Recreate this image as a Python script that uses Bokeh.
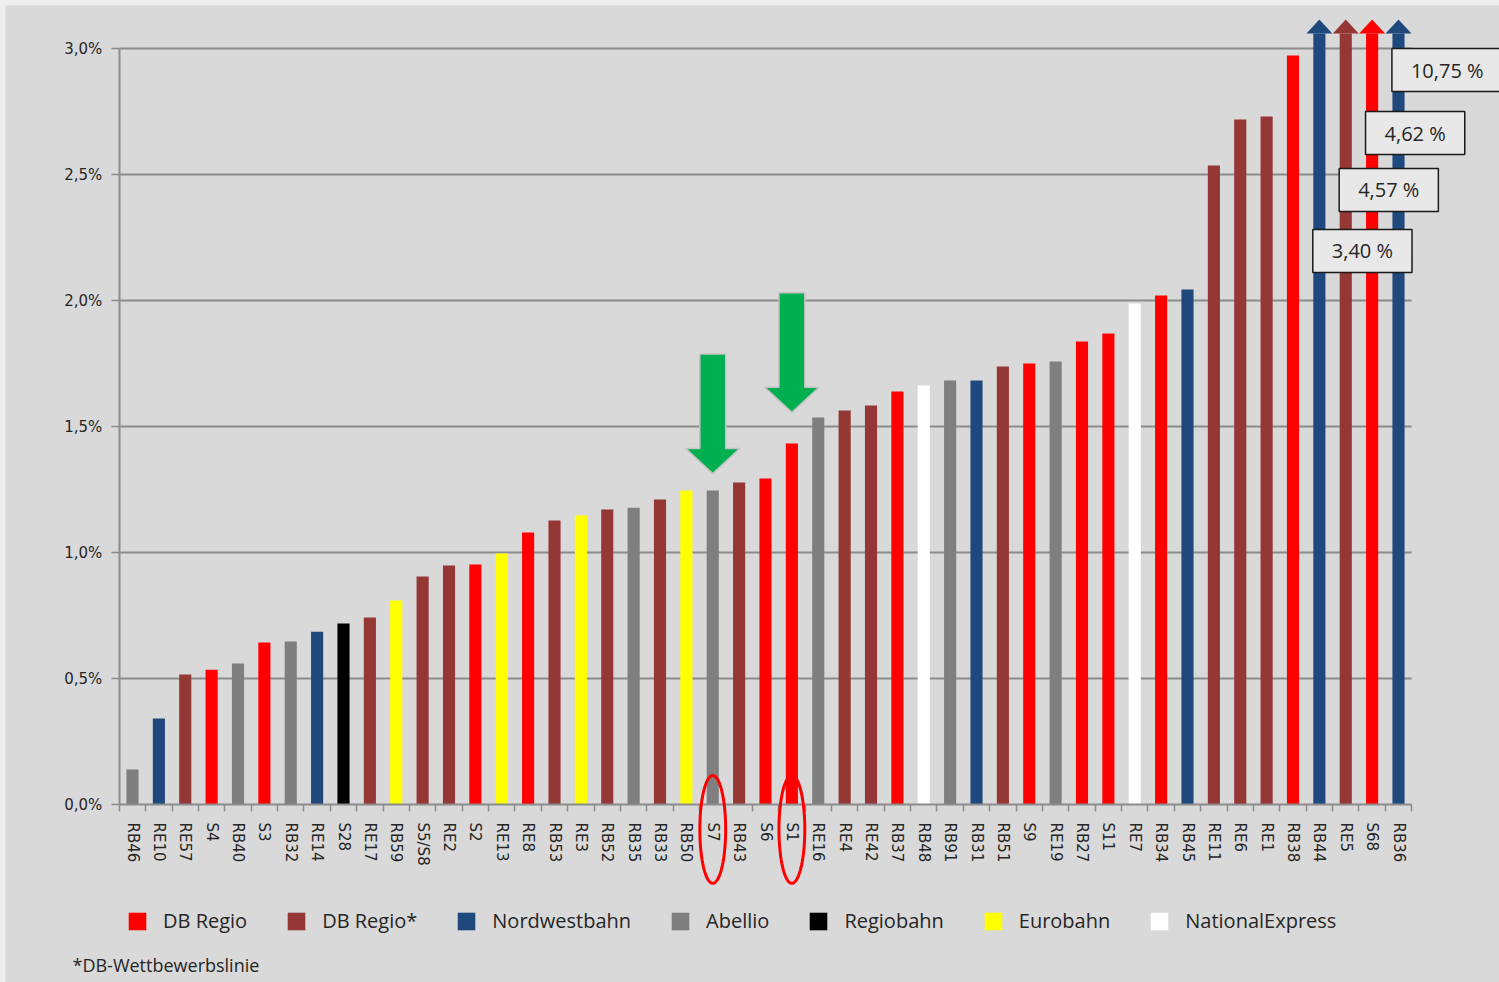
import numpy as np
from bokeh.plotting import figure
from bokeh.models import (Range1d, FixedTicker, CustomJSTickFormatter, Legend, LegendItem,
                          Label, PolyAnnotation, BoxAnnotation, ColumnDataSource)
from bokeh.embed import file_html
from bokeh.resources import INLINE

# ---------------- data ----------------
lines = ["RB46", "RE10", "RE57", "S4", "RB40", "S3", "RB32", "RE14", "S28", "RE17",
         "RB59", "S5/S8", "RE2", "S2", "RE13", "RE8", "RB53", "RE3", "RB52", "RB35",
         "RB33", "RB50", "S7", "RB43", "S6", "S1", "RE16", "RE4", "RE42", "RB37",
         "RB48", "RB91", "RB31", "RB51", "S9", "RE19", "RB27", "S11", "RE7", "RB34",
         "RB45", "RE11", "RE6", "RE1", "RB38", "RB44", "RE5", "S68", "RB36"]
values = [0.139, 0.341, 0.516, 0.535, 0.560, 0.643, 0.647, 0.686, 0.718, 0.742,
          0.810, 0.905, 0.948, 0.952, 0.996, 1.079, 1.127, 1.147, 1.171, 1.178,
          1.210, 1.246, 1.246, 1.278, 1.294, 1.433, 1.536, 1.563, 1.583, 1.639,
          1.663, 1.683, 1.683, 1.738, 1.750, 1.758, 1.837, 1.869, 1.988, 2.020,
          2.044, 2.536, 2.718, 2.730, 2.972, 3.40, 4.57, 4.62, 10.75]
operators = ["Abellio", "Nordwestbahn", "DB Regio*", "DB Regio", "Abellio", "DB Regio",
             "Abellio", "Nordwestbahn", "Regiobahn", "DB Regio*", "Eurobahn", "DB Regio*",
             "DB Regio*", "DB Regio", "Eurobahn", "DB Regio", "DB Regio*", "Eurobahn",
             "DB Regio*", "Abellio", "DB Regio*", "Eurobahn", "Abellio", "DB Regio*",
             "DB Regio", "DB Regio", "Abellio", "DB Regio*", "DB Regio*", "DB Regio",
             "NationalExpress", "Abellio", "Nordwestbahn", "DB Regio*", "DB Regio",
             "Abellio", "DB Regio", "DB Regio", "NationalExpress", "DB Regio",
             "Nordwestbahn", "DB Regio*", "DB Regio*", "DB Regio*", "DB Regio",
             "Nordwestbahn", "DB Regio*", "DB Regio", "Nordwestbahn"]
legend_names = ["DB Regio", "DB Regio*", "Nordwestbahn", "Abellio", "Regiobahn",
                "Eurobahn", "NationalExpress"]
legend_colors = ["#ff0000", "#953735", "#1f497d", "#7f7f7f", "#000000", "#ffff00", "#ffffff"]
y_ticks = [0.0, 0.5, 1.0, 1.5, 2.0, 2.5, 3.0]
highlighted = ["S7", "S1"]
footnote = "*DB-Wettbewerbslinie"

# ---------------- layout / style constants ----------------
W, H = 1499, 982
PX_X0, PX_STEP = 132, 26.375      # pixel of first category centre, category pitch
PX_Y0, PX_UNIT = 804, 252          # pixel of 0 %, pixels per 1 %
Y_MAX_TICK = 3.0
CAP = 3.06          # where the shaft of an out-of-range bar ends
HEAD_TIP = 3.115    # tip of the arrow head of an out-of-range bar
callout_y = [2.282, 2.524, 2.75, 3.0]
arrow_tips = [1.313, 1.556]
GRID = "#8c8c8c"
TXT = "#262626"

n = len(lines)
p = figure(width=W, height=H, output_backend="svg", toolbar_location=None,
           x_range=Range1d(-PX_X0 / PX_STEP, (W - PX_X0) / PX_STEP),
           y_range=Range1d(-(H - PX_Y0) / PX_UNIT, PX_Y0 / PX_UNIT),
           min_border=0, min_border_left=0, min_border_right=0,
           min_border_top=0, min_border_bottom=0,
           background_fill_color="#d9d9d9", border_fill_color="#d9d9d9",
           outline_line_color=None)
p.xgrid.visible = False
p.ygrid.visible = False

# light frame strips at top and left edge of the picture
p.add_layout(BoxAnnotation(left=0, right=5, left_units="screen", right_units="screen",
                           fill_color="#eeeeee", fill_alpha=1, line_alpha=0,
                           level="underlay"))
p.add_layout(BoxAnnotation(top=H, bottom=H - 5, top_units="screen", bottom_units="screen",
                           fill_color="#eeeeee", fill_alpha=1, line_alpha=0,
                           level="underlay"))

# horizontal gridlines (only over the category area)
gl = [t for t in y_ticks if t > 0]
p.segment(x0=[-0.5] * len(gl), x1=[n - 0.5] * len(gl), y0=gl, y1=gl,
          line_color=GRID, line_width=2)

# bars, one renderer per operator (for the legend)
items = []
for name, color in zip(legend_names, legend_colors):
    idx = [i for i, op in enumerate(operators) if op == name]
    src = ColumnDataSource(dict(x=idx, top=[min(values[i], CAP) for i in idx]))
    r = p.vbar(x="x", top="top", width=0.46, source=src,
               fill_color=color, line_color=None)
    items.append(LegendItem(label=name, renderers=[r]))

# arrow heads on out-of-range bars
color_of = dict(zip(legend_names, legend_colors))
big = [i for i, v in enumerate(values) if v > Y_MAX_TICK]
p.patches(xs=[[i - 0.49, i, i + 0.49] for i in big],
          ys=[[CAP, HEAD_TIP, CAP] for i in big],
          fill_color=[color_of[operators[i]] for i in big], line_color=None)

# callout boxes with the real values (with a soft shadow)
for k, i in enumerate(big):
    txt = f"{values[i]:.2f}".replace(".", ",") + " %"
    common = dict(x=i - 0.25, y=callout_y[k], text=txt, anchor="top_left",
                  text_font="Open Sans", text_font_size="20px",
                  padding=dict(left=19, right=19, top=8, bottom=8))
    p.add_layout(Label(x_offset=3, y_offset=-3, text_alpha=0,
                       background_fill_color="#8a8a8a", background_fill_alpha=0.6,
                       **common))
    p.add_layout(Label(text_color=TXT, background_fill_color="#e8e8e8",
                       border_line_color="#1a1a1a", border_line_width=1.5, **common))

# green arrows pointing at highlighted lines
axs, ays = [], []
for name, tip in zip(highlighted, arrow_tips):
    i = lines.index(name)
    axs.append([i - 0.49, i + 0.49, i + 0.49, i + 1.03, i, i - 1.03, i - 0.49])
    ays.append([tip + 0.475, tip + 0.475, tip + 0.1, tip + 0.1, tip, tip + 0.1, tip + 0.1])
p.patches(xs=axs, ys=ays, fill_color="#00b050", line_color="#c3c3c3", line_width=1.5)

# axes, drawn inside the frame at fixed positions
xa = p.xaxis[0]
xa.fixed_location = 0
xa.bounds = (-0.5, n - 0.5)
xa.ticker = FixedTicker(ticks=list(range(n)), minor_ticks=[i - 0.5 for i in range(n + 1)])
xa.formatter = CustomJSTickFormatter(args=dict(names=lines),
                                     code="return names[Math.round(tick)] || '';")
xa.major_label_orientation = "vertical"
xa.major_tick_out = 0
xa.major_tick_in = 0
xa.minor_tick_out = 7
xa.minor_tick_in = 0
xa.minor_tick_line_color = GRID
xa.minor_tick_line_width = 1.5
xa.axis_line_color = GRID
xa.axis_line_width = 2
xa.major_label_standoff = 11
xa.major_label_text_font = "DejaVu Sans"
xa.major_label_text_font_size = "15px"
xa.major_label_text_color = TXT

ya = p.yaxis[0]
ya.fixed_location = -0.5
ya.bounds = (0, Y_MAX_TICK)
ya.ticker = FixedTicker(ticks=y_ticks, minor_ticks=[])
ya.formatter = CustomJSTickFormatter(code="return tick.toFixed(1).replace('.', ',') + '%';")
ya.major_tick_out = 8
ya.major_tick_in = 0
ya.major_tick_line_color = GRID
ya.major_tick_line_width = 1.5
ya.minor_tick_line_color = None
ya.axis_line_color = GRID
ya.axis_line_width = 2
ya.major_label_standoff = 9
ya.major_label_text_font = "DejaVu Sans"
ya.major_label_text_font_size = "15px"
ya.major_label_text_color = TXT

# red ellipses around highlighted tick labels
t = np.linspace(0, 2 * np.pi, 80)
for name in highlighted:
    i = lines.index(name)
    p.add_layout(PolyAnnotation(xs=list(i + 0.49 * np.cos(t)),
                                ys=list(-0.099 + 0.214 * np.sin(t)),
                                fill_color=None, fill_alpha=0,
                                line_color="#ff0000", line_alpha=1, line_width=3))

# legend
legend = Legend(items=items, orientation="horizontal", location=(126, 48),
                glyph_width=22, glyph_height=22, label_standoff=15, spacing=38,
                padding=10, margin=0, background_fill_alpha=0, border_line_color=None,
                label_text_font="Open Sans", label_text_font_size="20px",
                label_text_color=TXT)
p.add_layout(legend)

# footnote
p.add_layout(Label(x=72, y=H - 964, x_units="screen", y_units="screen", text=footnote,
                   text_baseline="middle", text_font="Open Sans", text_font_size="18px",
                   text_color=TXT))

open("out.html", "w").write(file_html(p, INLINE))
